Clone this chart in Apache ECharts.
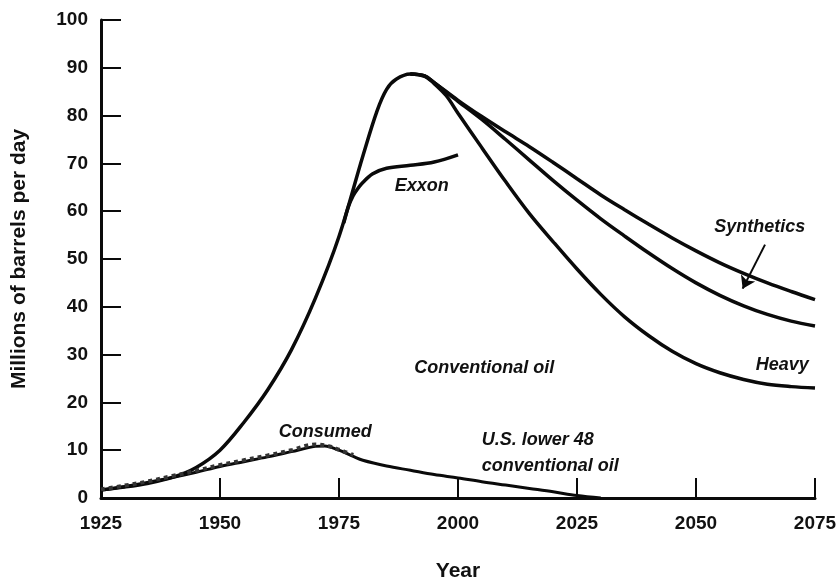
<!DOCTYPE html>
<html>
<head>
<meta charset="utf-8">
<script src="https://cdn.jsdelivr.net/npm/echarts@6/dist/echarts.min.js"></script>
<style>
  html, body { margin: 0; padding: 0; background: #fff; }
  #chart { width: 840px; height: 587px; }
</style>
</head>
<body>
<div id="chart"></div>
<script>
// conventional oil (lowest of the three tails)
const convYears = [1925, 1930, 1935, 1940, 1945, 1950, 1955, 1960, 1965, 1970, 1975, 1980, 1983, 1985, 1987, 1990, 1993, 1995, 1997.5, 2000, 2005, 2010, 2015, 2020, 2025, 2030, 2035, 2040, 2045, 2050, 2055, 2060, 2065, 2070, 2075];
const convValues = [1.7, 2.3, 3.1, 4.3, 6.4, 10.0, 15.8, 22.6, 31.0, 41.7, 54.7, 71.5, 81, 85.5, 87.6, 88.7, 88.2, 86.7, 84.2, 80.5, 73.3, 66.2, 59.5, 53.6, 47.9, 42.6, 37.9, 34.0, 30.7, 28.1, 26.2, 24.8, 23.8, 23.3, 23.0];

// conventional + heavy
const heavyYears = [1990, 1993, 1995, 2000, 2005, 2010, 2015, 2020, 2025, 2030, 2035, 2040, 2045, 2050, 2055, 2060, 2065, 2070, 2075];
const heavyValues = [88.7, 88.3, 86.9, 83.0, 79.2, 75.0, 70.7, 66.4, 62.3, 58.4, 54.8, 51.3, 48.0, 45.0, 42.4, 40.2, 38.4, 37.0, 36.0];

// conventional + heavy + synthetics
const synthYears = [1990, 1993, 1995, 2000, 2005, 2010, 2015, 2020, 2025, 2030, 2035, 2040, 2045, 2050, 2055, 2060, 2065, 2070, 2075];
const synthValues = [88.7, 88.3, 86.9, 83.2, 79.8, 76.6, 73.5, 70.2, 66.8, 63.4, 60.3, 57.3, 54.4, 51.7, 49.2, 47.0, 45.0, 43.2, 41.5];

const exxonYears = [1976, 1977, 1978, 1979, 1980, 1982, 1985, 1990, 1995, 2000];
const exxonValues = [57.5, 61, 63.3, 64.8, 66, 67.8, 69, 69.6, 70.3, 71.8];

const usYears = [1925, 1930, 1935, 1940, 1945, 1950, 1955, 1960, 1965, 1970, 1972, 1975, 1978, 1980, 1985, 1990, 1995, 2000, 2005, 2010, 2015, 2020, 2025, 2030];
const usValues = [1.6, 2.4, 3.3, 4.3, 5.4, 6.6, 7.6, 8.6, 9.7, 10.8, 10.9, 10.0, 8.7, 7.9, 6.7, 5.8, 4.9, 4.2, 3.4, 2.7, 2.0, 1.3, 0.5, 0];

const consumedYears = [1925, 1930, 1935, 1940, 1945, 1950, 1955, 1960, 1965, 1970, 1973, 1975, 1978];
const consumedValues = [1.8, 2.6, 3.5, 4.6, 5.7, 6.9, 7.9, 8.9, 10.0, 11.2, 10.8, 10.1, 9.0];

const xTicks = [1925, 1950, 1975, 2000, 2025, 2050, 2075];

// text notes placed in data space
const notes = [
  { text: 'Exxon', year: 1992.4, value: 65.2, align: 'center' },
  { text: 'Synthetics', year: 2063.4, value: 56.7, align: 'center' },
  { text: 'Heavy', year: 2068.1, value: 27.8, align: 'center' },
  { text: 'Conventional oil', year: 2005.5, value: 27.2, align: 'center' },
  { text: 'Consumed', year: 1972.1, value: 13.8, align: 'center' },
  { text: 'U.S. lower 48\nconventional oil', year: 2005.0, value: 9.5, align: 'left' }
];

const pairs = (xs, ys) => xs.map((x, i) => [x, ys[i]]);
const font = "'Liberation Sans', Arial, sans-serif";

const chart = echarts.init(document.getElementById('chart'));

function lineSeries(name, xs, ys, extra) {
  return Object.assign({
    name: name,
    type: 'line',
    data: pairs(xs, ys),
    smooth: 0.35,
    showSymbol: false,
    animation: false,
    lineStyle: { color: '#0a0a0a', width: 3.5 },
    z: 3
  }, extra || {});
}

const option = {
  backgroundColor: '#fff',
  animation: false,
  grid: { left: 101, right: 25, top: 20, bottom: 82 },
  xAxis: {
    type: 'value',
    min: 1925,
    max: 2075,
    interval: 25,
    name: 'Year',
    nameLocation: 'middle',
    nameGap: 63,
    nameTextStyle: { fontFamily: font, fontWeight: 'bold', fontSize: 21, color: '#111' },
    axisLine: { show: true, lineStyle: { color: '#0a0a0a', width: 3 } },
    axisTick: { show: true, inside: true, length: 20, lineStyle: { color: '#0a0a0a', width: 2 } },
    axisLabel: {
      margin: 16,
      fontFamily: font, fontWeight: 'bold', fontSize: 19, color: '#111',
      formatter: v => xTicks.indexOf(v) >= 0 ? String(v) : ''
    },
    splitLine: { show: false }
  },
  yAxis: {
    type: 'value',
    min: 0,
    max: 100,
    interval: 10,
    name: 'Millions of barrels per day',
    nameLocation: 'middle',
    nameGap: 71,
    nameTextStyle: { fontFamily: font, fontWeight: 'bold', fontSize: 21, color: '#111' },
    axisLine: { show: true, lineStyle: { color: '#0a0a0a', width: 3 } },
    axisTick: { show: true, inside: true, length: 20, lineStyle: { color: '#0a0a0a', width: 2 } },
    axisLabel: { margin: 13, fontFamily: font, fontWeight: 'bold', fontSize: 19, color: '#111' },
    splitLine: { show: false }
  },
  series: [
    lineSeries('Conventional oil', convYears, convValues),
    lineSeries('Heavy', heavyYears, heavyValues),
    lineSeries('Synthetics', synthYears, synthValues, {
      markLine: {
        silent: true,
        symbol: ['none', 'arrow'],
        symbolSize: 12,
        label: { show: false },
        lineStyle: { color: '#0a0a0a', width: 2, type: 'solid' },
        data: [[{ coord: [2064.5, 53.0] }, { coord: [2059.8, 43.8] }]]
      }
    }),
    lineSeries('Exxon', exxonYears, exxonValues),
    lineSeries('U.S. lower 48 conventional oil', usYears, usValues, { lineStyle: { color: '#0a0a0a', width: 3 } }),
    lineSeries('Consumed', consumedYears, consumedValues, { lineStyle: { color: '#333', width: 4, type: 'dotted' }, z: 4 })
  ]
};

chart.setOption(option);

// put the notes on top, converted from data space
chart.setOption({
  graphic: notes.map(n => {
    const p = chart.convertToPixel({ gridIndex: 0 }, [n.year, n.value]);
    return {
      type: 'text',
      x: p[0],
      y: p[1],
      z: 10,
      style: {
        text: n.text,
        fill: '#111',
        font: 'italic bold 18px ' + font,
        align: n.align,
        verticalAlign: 'middle',
        lineHeight: 26
      }
    };
  })
});
</script>
</body>
</html>
